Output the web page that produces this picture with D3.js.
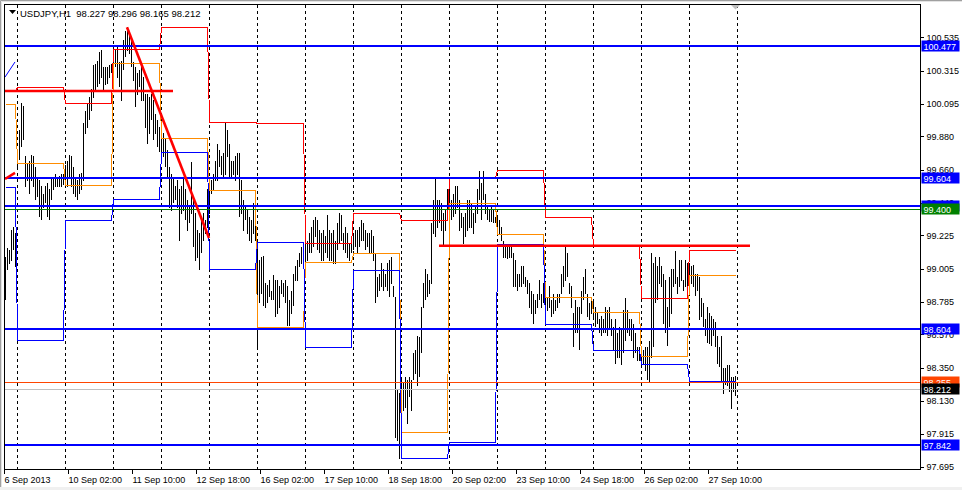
<!DOCTYPE html>
<html><head><meta charset="utf-8">
<script src="https://cdn.jsdelivr.net/npm/d3@7"></script>
<style>
html,body{margin:0;padding:0;background:#fff;}
svg{display:block;}
text{font-family:"Liberation Sans",Arial,sans-serif;}
</style></head><body>
<svg id="c" width="962" height="490"></svg>
<script>
// ---------------- DATA ----------------
const symbolTitle = "USDJPY,H1";
const lastOHLC = [98.227, 98.296, 98.165, 98.212];
const firstDayBars = 6;      // 6 Sep 18:00..23:00
const barsPerDay = 24;
const dayNames = ["6 Sep","9 Sep","10 Sep","11 Sep","12 Sep","13 Sep","16 Sep","17 Sep","18 Sep","19 Sep","20 Sep","23 Sep","24 Sep","25 Sep","26 Sep","27 Sep"];

const highs = [
99.08,99.14,99.13,99.26,99.28,99.24,
99.77,99.92,100.10,100.08,99.75,99.70,99.72,99.76,99.75,99.68,99.61,99.59,99.55,99.50,99.55,99.57,99.53,99.60,99.61,99.63,99.61,99.62,99.63,99.63,
99.69,99.72,99.76,99.75,99.68,99.61,99.59,99.63,99.64,99.97,100.05,100.10,100.14,100.19,100.35,100.36,100.38,100.44,100.45,100.34,100.34,100.34,100.35,100.36,
100.46,100.45,100.47,100.37,100.38,100.52,100.58,100.60,100.56,100.52,100.37,100.34,100.30,100.32,100.35,100.27,100.16,100.16,100.14,100.16,100.12,100.03,99.99,99.94,
99.98,99.90,99.86,99.79,99.68,99.63,99.61,99.55,99.59,99.53,99.55,99.61,99.53,99.46,99.41,99.71,99.46,99.37,99.26,99.24,99.35,99.37,99.33,99.53,
99.53,99.59,99.63,99.72,99.83,99.79,99.75,99.77,99.97,99.92,99.83,99.72,99.72,99.75,99.77,99.77,99.59,99.46,99.41,99.39,99.35,99.33,99.44,99.33,
99.17,99.06,99.08,99.09,98.91,98.90,98.93,98.86,98.96,98.93,98.93,98.89,98.93,98.91,98.93,98.89,98.80,98.86,98.97,99.02,99.06,99.11,99.15,99.17,
99.19,99.19,99.24,99.28,99.33,99.35,99.33,99.26,99.24,99.26,99.22,99.36,99.26,99.24,99.26,99.19,99.31,99.37,99.36,99.24,99.28,99.24,99.17,99.19,
99.24,99.26,99.26,99.28,99.33,99.31,99.26,99.24,99.24,99.26,99.22,99.11,98.95,98.97,99.04,99.00,98.97,99.04,99.06,99.08,98.89,98.82,98.20,98.18,
98.27,98.25,98.29,98.27,98.29,98.27,98.45,98.47,98.56,98.55,98.75,98.91,99.00,98.97,98.93,99.31,99.46,99.60,99.46,99.46,99.44,99.37,99.39,99.53,
99.53,99.46,99.50,99.55,99.55,99.46,99.37,99.35,99.37,99.46,99.46,99.44,99.37,99.41,99.53,99.65,99.57,99.65,99.50,99.41,99.39,99.41,99.39,99.35,
99.34,99.33,99.28,99.19,99.15,99.15,99.15,99.15,99.11,99.06,98.97,98.97,99.02,99.02,98.95,98.93,98.91,98.86,98.84,98.80,98.84,98.93,98.84,98.91,
98.84,98.82,98.89,98.80,98.84,98.80,98.84,98.84,98.97,99.02,99.16,99.11,98.91,98.89,98.71,98.80,98.75,98.75,98.86,98.95,99.00,98.84,98.78,98.80,
98.80,98.75,98.71,98.67,98.69,98.67,98.75,98.73,98.75,98.67,98.62,98.67,98.58,98.62,98.60,98.73,98.81,98.73,98.67,98.67,98.64,98.58,98.49,98.49,
98.45,98.47,98.49,98.49,98.53,99.11,99.04,99.08,99.02,99.08,99.02,98.97,98.93,98.75,98.95,99.00,99.00,99.12,98.95,99.06,99.06,98.93,99.06,99.04,
99.04,99.02,99.03,98.97,98.97,98.95,98.81,98.78,98.67,98.75,98.71,98.69,98.67,98.65,98.56,98.49,98.56,98.35,98.35,98.37,98.37,98.29,98.29,98.296
];
const lows = [
98.80,99.00,99.04,99.06,99.13,99.02,
99.68,99.73,99.81,99.86,99.55,99.59,99.50,99.59,99.55,99.46,99.48,99.35,99.33,99.41,99.44,99.35,99.33,99.46,99.53,99.55,99.55,99.55,99.55,99.56,
99.58,99.55,99.61,99.55,99.50,99.48,99.46,99.50,99.53,99.59,99.90,99.94,99.99,100.05,100.14,100.19,100.21,100.23,100.27,100.19,100.22,100.23,100.27,100.30,
100.27,100.34,100.27,100.21,100.12,100.32,100.41,100.45,100.43,100.34,100.25,100.08,100.16,100.21,100.12,100.12,99.94,99.83,99.90,99.99,99.86,99.90,99.81,99.78,
99.79,99.75,99.68,99.61,99.41,99.39,99.44,99.46,99.41,99.19,99.37,99.39,99.33,99.26,99.31,99.37,99.15,99.06,99.08,99.00,99.11,99.19,99.24,99.28,
99.37,99.50,99.53,99.59,99.59,99.68,99.63,99.61,99.63,99.75,99.61,99.61,99.63,99.59,99.63,99.35,99.37,99.26,99.33,99.24,99.19,99.18,99.24,99.19,
98.48,98.78,98.84,98.76,98.75,98.78,98.82,98.80,98.80,98.69,98.71,98.75,98.84,98.82,98.78,98.63,98.63,98.71,98.76,98.93,98.93,99.02,99.04,99.06,
98.99,99.06,99.11,99.11,99.15,99.22,99.13,99.11,99.06,99.06,99.11,99.08,99.06,99.06,99.04,99.04,99.13,99.17,99.19,99.13,99.11,99.08,99.06,99.11,
99.13,99.15,99.11,99.15,99.19,99.19,99.13,99.15,99.11,99.11,99.06,98.78,98.82,98.86,98.89,98.86,98.89,98.86,98.82,98.91,98.82,97.89,97.87,97.75,
97.86,98.07,98.09,97.98,98.16,98.07,98.27,98.31,98.23,98.29,98.45,98.75,98.80,98.82,98.84,98.91,99.24,99.22,99.28,99.31,99.26,99.16,99.26,99.33,
99.39,99.33,99.35,99.37,99.41,99.26,99.28,99.17,99.22,99.26,99.28,99.28,99.24,99.31,99.37,99.46,99.33,99.46,99.37,99.33,99.32,99.32,99.31,99.31,
99.24,99.24,99.19,99.08,99.08,99.07,99.08,99.08,98.89,98.89,98.86,98.89,98.89,98.91,98.89,98.84,98.75,98.71,98.64,98.71,98.75,98.80,98.75,98.78,
98.71,98.73,98.75,98.69,98.71,98.73,98.75,98.78,98.84,98.89,98.93,98.95,98.84,98.75,98.49,98.58,98.58,98.47,98.71,98.80,98.84,98.69,98.67,98.71,
98.69,98.62,98.64,98.58,98.56,98.58,98.58,98.56,98.60,98.56,98.47,98.38,98.42,98.42,98.37,98.45,98.53,98.58,98.56,98.53,98.42,98.45,98.40,98.40,
98.40,98.38,98.33,98.27,98.26,98.42,98.49,98.78,98.80,98.91,98.89,98.64,98.58,98.50,98.62,98.71,98.89,98.91,98.84,98.89,98.93,98.86,98.89,98.89,
98.95,98.91,98.89,98.83,98.86,98.67,98.69,98.62,98.56,98.52,98.51,98.50,98.56,98.49,98.38,98.36,98.25,98.18,98.24,98.23,98.19,98.08,98.19,98.165
];

// daily reference levels (one per day)
const dayHighLevel  = [100.180,100.208,100.098,100.456,100.601,99.977,99.966,99.173,99.371,99.327,99.606,99.655,99.345,99.161,98.809,99.128];
const dayMidLevel   = [100.092,99.702,99.558,100.367,99.867,99.525,98.617,99.047,99.106,97.923,99.437,99.232,98.815,98.720,98.425,98.961];
const dayLowLevel   = [99.547,98.533,99.327,99.464,99.778,99.003,99.179,98.489,98.994,97.751,97.860,99.166,98.639,98.465,98.372,98.262];

// horizontal objects
const supportResistance = [100.477, 99.604, 99.421, 98.604, 97.842];
const greenLevel = 99.400;
const alertLevel = 98.255;
const bidLevel = 98.212;

// trend lines: [barStart, priceStart, barEnd, priceEnd]
const redTrends = [[0,100.180,84,100.180],[61,100.601,102,99.208],[217,99.157,372.5,99.157],[0,99.598,5,99.638]];
const blueTrends = [[0,100.272,5,100.372]];

const yTicks = [100.535,100.315,100.095,99.880,99.660,99.440,99.225,99.005,98.785,98.570,98.350,98.130,97.915,97.695];
const xTickLabels = ["6 Sep 2013","10 Sep 02:00","11 Sep 10:00","12 Sep 18:00","16 Sep 02:00","17 Sep 10:00","18 Sep 18:00","20 Sep 02:00","23 Sep 10:00","24 Sep 18:00","26 Sep 02:00","27 Sep 10:00"];
const xTickEvery = 32;

// ---------------- DRAW ----------------
const svg = d3.select("#c");
const L = 4.5, T = 4.5, R = 920.5, B = 469.5;
const nBars = highs.length;
const x = d3.scaleLinear().domain([0, 457.75]).range([5, R]);
const y = d3.scaleLinear().domain([97.677, 100.752]).range([B, T]);
const dayOf = i => i < firstDayBars ? 0 : 1 + Math.floor((i - firstDayBars) / barsPerDay);

// window chrome
svg.append("rect").attr("x",0).attr("y",0).attr("width",962).attr("height",490).attr("fill","#fff");
svg.append("path").attr("d","M0.5,489 V0.5 H962").attr("fill","none").attr("stroke","#a0a0a0");
svg.append("path").attr("d","M1.5,489 V1.5 H962").attr("fill","none").attr("stroke","#e3e3e3");
svg.append("path").attr("d","M0,488.5 H962").attr("stroke","#f0f0f0").attr("stroke-width",3);

svg.append("clipPath").attr("id","clip").append("rect")
  .attr("x",L).attr("y",T).attr("width",R-L).attr("height",B-T);
const g = svg.append("g").attr("clip-path","url(#clip)");

// day separators
const seps = d3.range(0, dayNames.length).map(k => firstDayBars + k*barsPerDay);
g.selectAll(".sep").data(seps).join("line")
  .attr("x1", d => Math.round(x(d))+0.5).attr("x2", d => Math.round(x(d))+0.5)
  .attr("y1", T).attr("y2", B)
  .attr("stroke","#000").attr("stroke-dasharray","3,3").attr("shape-rendering","crispEdges");

// bars
g.selectAll(".bar").data(d3.range(nBars)).join("line")
  .attr("x1", i => Math.round(x(i))+0.5).attr("x2", i => Math.round(x(i))+0.5)
  .attr("y1", i => y(highs[i])).attr("y2", i => y(lows[i]) + 0.5)
  .attr("stroke","#000").attr("stroke-width",1).attr("shape-rendering","crispEdges");

// daily step levels
const stepLine = arr => d3.line().x(i => Math.round(x(i))+0.5).y(i => Math.round(y(arr[dayOf(i)]))+0.5)(d3.range(nBars));
[[dayMidLevel,"#ff8c00"],[dayLowLevel,"#0000ff"],[dayHighLevel,"#ff0000"]].forEach(([arr,c]) => {
  g.append("path").attr("d", stepLine(arr)).attr("fill","none").attr("stroke",c).attr("stroke-width",1)
   .attr("shape-rendering","crispEdges");
});

// horizontal lines
g.append("line").attr("x1",L).attr("x2",R).attr("y1",Math.round(y(bidLevel))+0.5).attr("y2",Math.round(y(bidLevel))+0.5)
  .attr("stroke","#c0c0c0").attr("shape-rendering","crispEdges");
g.append("line").attr("x1",L).attr("x2",R).attr("y1",Math.round(y(alertLevel))+0.5).attr("y2",Math.round(y(alertLevel))+0.5)
  .attr("stroke","#ff4500").attr("shape-rendering","crispEdges");
g.append("line").attr("x1",L).attr("x2",R).attr("y1",Math.round(y(greenLevel))+0.5).attr("y2",Math.round(y(greenLevel))+0.5)
  .attr("stroke","#008000").attr("shape-rendering","crispEdges");
g.selectAll(".sr").data(supportResistance).join("line")
  .attr("x1",L).attr("x2",R).attr("y1",d=>Math.round(y(d))).attr("y2",d=>Math.round(y(d)))
  .attr("stroke","#0000ff").attr("stroke-width",2).attr("shape-rendering","crispEdges");

// trend lines
g.selectAll(".bt").data(blueTrends).join("line")
  .attr("x1",d=>x(d[0])).attr("y1",d=>y(d[1])).attr("x2",d=>x(d[2])).attr("y2",d=>y(d[3]))
  .attr("stroke","#0000ff").attr("stroke-width",1);
g.selectAll(".rt").data(redTrends).join("line")
  .attr("x1",d=>x(d[0])).attr("y1",d=>y(d[1])).attr("x2",d=>x(d[2])).attr("y2",d=>y(d[3]))
  .attr("stroke","#ff0000").attr("stroke-width",2.6);

// chart shift marker
const sx = Math.round(x(nBars-1))+0.5;
svg.append("path").attr("d",`M${sx-4.5},${T+0.5} L${sx+4.5},${T+0.5} L${sx},${T+5} Z`).attr("fill","#c0c0c0");

// frame
svg.append("rect").attr("x",L).attr("y",T).attr("width",R-L).attr("height",B-T)
  .attr("fill","none").attr("stroke","#000").attr("shape-rendering","crispEdges");

// y axis
const yAxis = d3.axisRight(y).tickValues(yTicks).tickFormat(d3.format(".3f")).tickSize(3).tickPadding(3);
const ya = svg.append("g").attr("transform",`translate(${R},0)`).call(yAxis);
ya.select(".domain").remove();
ya.selectAll("line").attr("stroke","#000").attr("shape-rendering","crispEdges");
ya.selectAll("text").attr("font-size","9px").attr("font-family","Liberation Sans, Arial, sans-serif").attr("fill","#000");

// x axis
const xTickBars = xTickLabels.map((_,k) => k*xTickEvery);
const xAxis = d3.axisBottom(x).tickValues(xTickBars).tickFormat((d,k)=>xTickLabels[k]).tickSize(4).tickPadding(3);
const xa = svg.append("g").attr("transform",`translate(0,${B})`).call(xAxis);
xa.select(".domain").remove();
xa.selectAll(".tick").attr("transform", d => `translate(${Math.round(x(d))-0.5},0)`);
xa.selectAll("line").attr("stroke","#000").attr("shape-rendering","crispEdges");
xa.selectAll("text").attr("text-anchor","start").attr("font-size","9px")
  .attr("font-family","Liberation Sans, Arial, sans-serif").attr("fill","#000");

// price labels on the right
function priceLabel(v, bg) {
  const yy = Math.round(y(v));
  const lg = svg.append("g");
  lg.append("rect").attr("x",R+1).attr("y",yy-5.5).attr("width",38).attr("height",11).attr("fill",bg);
  lg.append("text").attr("x",R+3).attr("y",yy+3.5).attr("font-size","9px").attr("fill","#fff")
    .text(d3.format(".3f")(v));
}
priceLabel(supportResistance[0], "#0000ff");
priceLabel(supportResistance[1], "#0000ff");
priceLabel(supportResistance[2], "#0000ff");
priceLabel(greenLevel, "#008000");
priceLabel(supportResistance[3], "#0000ff");
priceLabel(supportResistance[4], "#0000ff");
priceLabel(alertLevel, "#ff4500");
priceLabel(bidLevel, "#000000");

// title
svg.append("path").attr("d","M9,10 L16,10 L12.5,14 Z").attr("fill","#000");
svg.append("text").attr("x",20).attr("y",17).attr("font-size","9.5px").attr("fill","#000")
  .text(symbolTitle + "\u00a0\u00a0" + lastOHLC.map(d3.format(".3f")).join(" "));
</script>
</body></html>
